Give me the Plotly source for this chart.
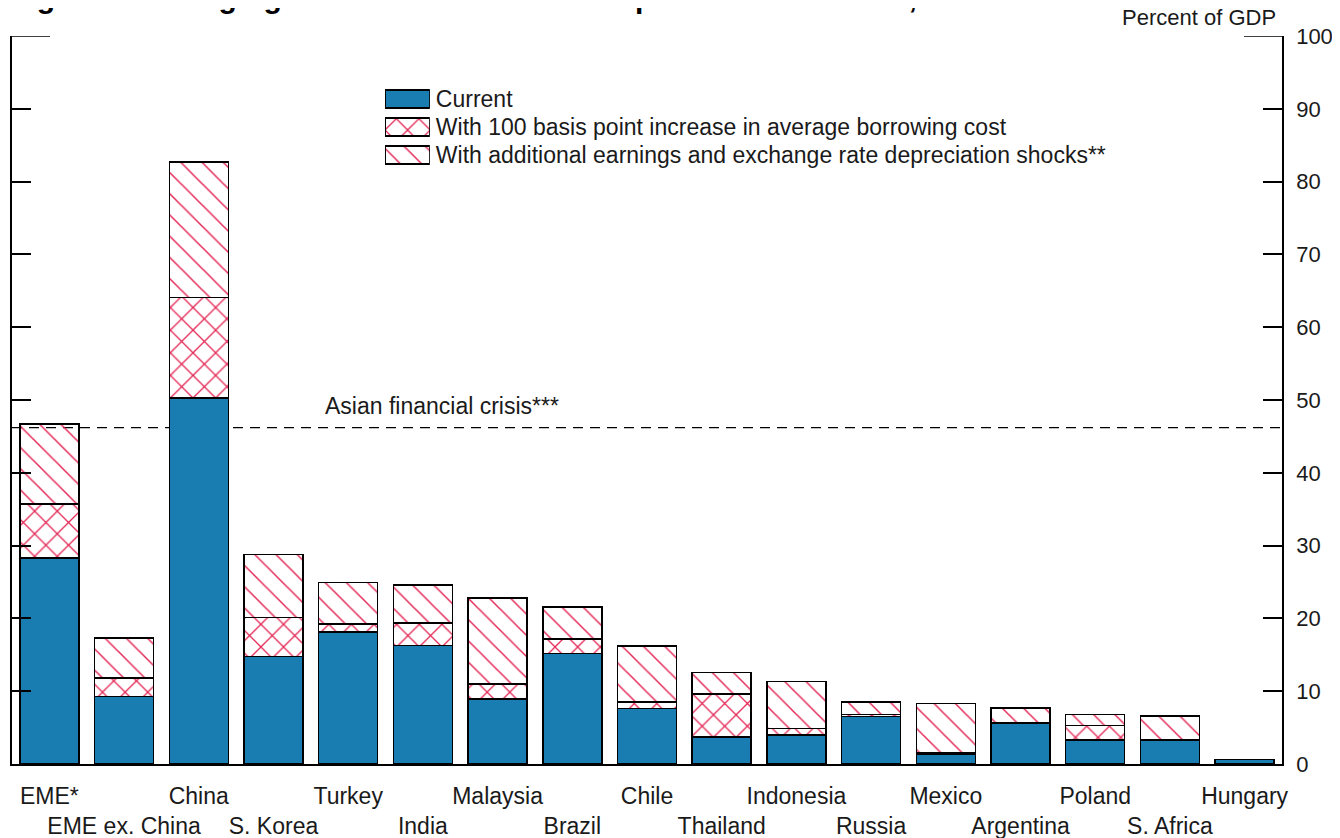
import plotly.graph_objects as go

# values, percent of GDP
countries = ["EME*", "EME ex. China", "China", "S. Korea", "Turkey", "India", "Malaysia",
             "Brazil", "Chile", "Thailand", "Indonesia", "Russia", "Mexico", "Argentina",
             "Poland", "S. Africa", "Hungary"]
current = [28.3, 9.3, 50.3, 14.8, 18.1, 16.3, 8.9, 15.2, 7.6, 3.7, 4.0, 6.5, 1.3, 5.6, 3.3, 3.3, 0.6]
with_100bp = [35.7, 11.8, 64.1, 20.1, 19.2, 19.4, 11.0, 17.2, 8.5, 9.6, 4.9, 6.8, 1.5, 5.6, 5.3, 3.3, 0.6]
with_shocks = [46.7, 17.3, 82.7, 28.8, 24.9, 24.6, 22.8, 21.6, 16.2, 12.6, 11.3, 8.5, 8.3, 7.7, 6.8, 6.6, 0.6]
asian_crisis = 46.2

series_names = ["Current",
                "With 100 basis point increase in average borrowing cost",
                "With additional earnings and exchange rate depreciation shocks**"]
legend_swatch = [1, 1, 1]

# stacked increments
add_100bp = [b - a for a, b in zip(current, with_100bp)]
add_shocks = [c - b for b, c in zip(with_100bp, with_shocks)]

# alternate the category labels on two rows
ticktext = [c if i % 2 == 0 else "<br>" + c for i, c in enumerate(countries)]
xpos = list(range(len(countries)))

FONT = "Liberation Sans, Arial, sans-serif"
BLUE = "#1a7db2"
RED = "#e42a58"
TXT = "#1a1a1a"

outline = dict(color="black", width=1.5)
styles = [
    dict(color=BLUE, line=outline),
    dict(color=RED, line=outline, pattern=dict(shape="x", size=16, solidity=0.16, fillmode="replace")),
    dict(color=RED, line=outline, pattern=dict(shape="\\", size=15, solidity=0.1, fillmode="replace")),
]

fig = go.Figure()
for name, vals, st in zip(series_names, [current, add_100bp, add_shocks], styles):
    fig.add_trace(go.Bar(x=xpos, y=vals, name=name, marker=st, showlegend=False))

# legend drawn as small horizontal bars on their own axes so the hatching shows
for name, v, st in zip(series_names, legend_swatch, styles):
    fig.add_trace(go.Bar(x=[v], y=[name], orientation="h", marker=st, width=0.64,
                         xaxis="x2", yaxis="y2", showlegend=False, hoverinfo="skip"))

# asian financial crisis reference
fig.add_shape(type="line", xref="paper", yref="y", x0=0, x1=1, y0=asian_crisis, y1=asian_crisis,
              line=dict(color="black", width=1.3, dash="10px,7px"), layer="below")
fig.add_annotation(text="Asian financial crisis***", xref="paper", yref="y", x=0.245, y=asian_crisis,
                   xanchor="left", yanchor="bottom", yshift=7, showarrow=False,
                   font=dict(family=FONT, size=23, color=TXT))

# short top caps on both axes
fig.add_shape(type="line", xref="paper", yref="y", xsizemode="pixel", xanchor=0, x0=0, x1=38,
              y0=100, y1=100, line=dict(color="black", width=1.5))
fig.add_shape(type="line", xref="paper", yref="y", xsizemode="pixel", xanchor=1, x0=-38, x1=0,
              y0=100, y1=100, line=dict(color="black", width=1.5))

fig.add_annotation(text="Percent of GDP", xref="paper", yref="paper", x=0.997, y=1.025,
                   xanchor="right", yanchor="middle", showarrow=False,
                   font=dict(family=FONT, size=22, color=TXT))
# title, mostly cut off at the top of the page in the original
fig.add_annotation(text="<b>Figure 5. Emerging Market Nonfinancial Corporate Debt at Risk, 2015</b>",
                   xref="paper", yref="paper", x=-0.003, y=1.027, xanchor="left", yanchor="bottom",
                   showarrow=False, font=dict(family=FONT, size=30, color="black"))

# page body adds an 8px offset, so the figure is 8px smaller than the window
fig.update_layout(
    width=1332, height=830,
    margin=dict(l=4, r=58, t=28, b=74),
    barmode="stack", bargap=0.21,
    plot_bgcolor="white", paper_bgcolor="white",
    font=dict(family=FONT, size=22, color=TXT),
    showlegend=False,
    xaxis=dict(range=[-0.5, len(countries) - 0.5], tickmode="array", tickvals=xpos, ticktext=ticktext,
               tickangle=0, automargin=False,
               showline=True, linecolor="black", linewidth=1.5, ticks="", showgrid=False,
               zeroline=False, ticklabelstandoff=11, tickfont=dict(size=23)),
    yaxis=dict(range=[0, 100], dtick=10, side="right", showline=True, linecolor="black",
               linewidth=1.5, mirror="ticks", ticks="inside", ticklen=19, tickwidth=1.5,
               tickcolor="black", showgrid=False, zeroline=False, tickfont=dict(size=22),
               ticklabelstandoff=8, automargin=False),
    xaxis2=dict(domain=[0.2937, 0.329], anchor="y2", range=[0, 1], visible=False, fixedrange=True),
    yaxis2=dict(domain=[0.817, 0.933], anchor="x2", type="category", autorange="reversed",
                side="right", showline=False, showgrid=False, zeroline=False, ticks="",
                ticklabelstandoff=5, automargin=False, tickfont=dict(size=23)),
)

fig.write_html("out.html")
